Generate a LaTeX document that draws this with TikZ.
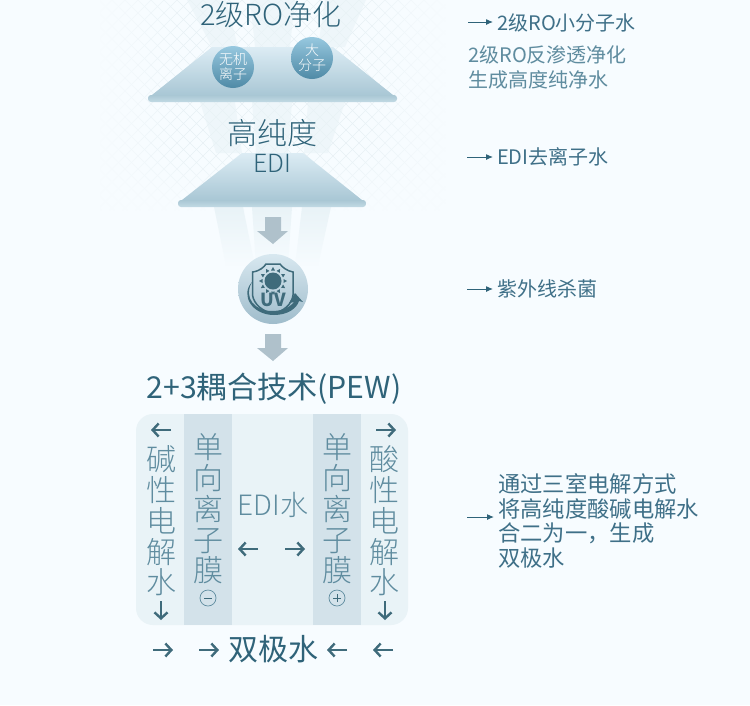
\documentclass[tikz,border=0pt]{standalone}
\usepackage{fontspec}
\setmainfont{Noto Sans CJK SC Light}
\newfontfamily\regf{Noto Sans CJK SC}
\usetikzlibrary{arrows.meta,fadings}
\definecolor{bgc}{HTML}{F7FCFF}
\definecolor{ink}{HTML}{2F6379}
\definecolor{inkm}{HTML}{3F7088}
\definecolor{inkl}{HTML}{5F8C9F}
\definecolor{inkd}{HTML}{3F6B7B}
\definecolor{boxc}{HTML}{E9F3F7}
\definecolor{bandc}{HTML}{D3E2EA}
\definecolor{grayarrow}{HTML}{AFC1CB}
\definecolor{latt}{HTML}{E8F0F5}
\definecolor{ballb}{HTML}{4F8AA6}
\definecolor{ballt}{HTML}{97C8DF}
\definecolor{platet}{HTML}{A9C7D4}
\definecolor{plateb}{HTML}{C2DAE4}
\definecolor{beamc}{HTML}{E9F3F7}
\definecolor{funt}{HTML}{DCECF4}
\definecolor{funb}{HTML}{A9C7D5}
\definecolor{uvt}{HTML}{D8E8F0}
\definecolor{uvb}{HTML}{9FBCCB}
\tikzset{
  x=1pt,y=-1pt,
  txt/.style={inner sep=0pt,text=#1},
  txt/.default=ink,
  sz/.style={font=\fontsize{#1}{#1}\selectfont},
  regsz/.style={font=\regf\fontsize{#1}{#1}\selectfont},
  vert/.style={inner sep=0pt,align=center,text=inkl,font=\fontsize{30}{30.7}\selectfont},
  tinyarrow/.style={-{Straight Barb[length=6pt,width=13pt,line width=2.4pt]},line width=2.6pt,draw=inkd},
  pointer/.style={-{Latex[length=7pt,width=6pt]},line width=1pt,draw=ink,shorten >=4pt},
  ball/.style={circle,minimum size=42pt,inner sep=0pt,top color=ballt,bottom color=ballb,text=white,align=center,font=\fontsize{14}{15}\selectfont},
  bigarrow/.style={fill=grayarrow},
  beam/.style={fill=beamc,opacity=.6},
  lowbeam/.style={fill=beamc,path fading=south},
  funnel/.style={top color=funt,bottom color=funb},
  plate/.style={top color=platet,bottom color=plateb,rounded corners=3pt},
  mark circle/.style={circle,draw=inkl,line width=.7pt,minimum size=16pt,inner sep=0pt},
}
\begin{document}
\begin{tikzpicture}
\useasboundingbox (0,0) rectangle (750,705);
\fill[bgc] (0,0) rectangle (750,705);
% lattice
\begin{scope}
\clip (100,0) rectangle (445,210);
\foreach \k in {-200,-187,...,700}{
  \draw[latt,line width=.5pt] (\k,0) -- ++(210,210);
  \draw[latt,line width=.5pt] (\k,0) -- ++(-210,210);
}
\end{scope}
\fill[bgc,path fading=east] (99,-1) rectangle (190,211);
\fill[bgc,path fading=west] (355,-1) rectangle (446,211);
\fill[bgc,path fading=north] (99,150) rectangle (446,211);
% beams
\fill[beam] (187,0) -- (226,0) -- (238,47) -- (212,47) -- cycle;
\fill[beam] (250,0) -- (295,0) -- (290,47) -- (255,47) -- cycle;
\fill[beam] (325,0) -- (366,0) -- (345,47) -- (318,47) -- cycle;
\fill[beam] (200,102) -- (235,102) -- (242,153) -- (216,153) -- cycle;
\fill[beam] (252,102) -- (292,102) -- (288,153) -- (256,153) -- cycle;
\fill[beam] (308,102) -- (345,102) -- (328,153) -- (304,153) -- cycle;
\fill[lowbeam] (214,207) -- (243,207) -- (255,266) -- (226,266) -- cycle;
\fill[lowbeam] (252,207) -- (292,207) -- (288,266) -- (256,266) -- cycle;
\fill[lowbeam] (302,207) -- (331,207) -- (318,266) -- (295,266) -- cycle;
% funnels
\shade[funnel] (212,47) -- (333,47) -- (393,95) -- (152,95) -- cycle;
\shade[plate] (148,95) rectangle (397,102);
\shade[funnel] (242,153) -- (303,153) -- (362,200) -- (182,200) -- cycle;
\shade[plate] (178,200) rectangle (366,207);
% titles
\node[txt,sz=29] (t1) at (271,15) {2级RO净化};
\node[txt,sz=30] (t2) at (272,133) {高纯度};
\node[txt,sz=25] (t3) at (272,163) {EDI};
\node[ball] (b1) at (233,67) {无机\\离子};
\node[ball] (b2) at (312,58) {大\\分子};
% big arrows
\fill[bigarrow] (265,217) -- (281,217) -- (281,231) -- (288,231) -- (273,244) -- (257,231) -- (265,231) -- cycle;
\fill[bigarrow] (265,334) -- (281,334) -- (281,348) -- (288,348) -- (273,361) -- (257,348) -- (265,348) -- cycle;
% UV
\node[circle,minimum size=70pt,inner sep=0pt,top color=uvt,bottom color=uvb] (uv) at (273,289) {};
\draw[inkd,line width=1.5pt] (252.5,272) .. controls (260,271) and (264,267) .. (266,264) -- (280,264) .. controls (282,267) and (287,271) .. (293,272) -- (293,295) .. controls (292,305) and (283,311) .. (273,314) .. controls (263,311) and (254,305) .. (252.5,295) -- cycle;
\fill[inkd] (273,281) circle (8.5);
\foreach \a in {0,30,...,330}{
  \fill[inkd,shift={(273,281)},rotate=\a] (10.5,-2) -- (14,0) -- (10.5,2) -- cycle;
}
\node[inner sep=0pt,text=inkd,font=\regf\fontsize{18}{18}\selectfont\bfseries] (uvlabel) at (273,300) {UV};
\fill[inkd] (252,282) .. controls (240,295) and (252,315) .. (274,315) .. controls (288,315) and (297,308) .. (299,301) -- (303,302) -- (295,293) -- (289,303) -- (294,302) .. controls (288,309) and (280,311) .. (272,311) .. controls (255,311) and (243,298) .. (252,282) -- cycle;
% coupling
\node[txt,regsz=30.2] (t4) at (274,389) {2+3耦合技术(PEW)};
% box
\fill[boxc,rounded corners=17pt] (136,414) rectangle (408,625);
\fill[bandc] (184,414) rectangle (232,625);
\fill[bandc] (313,414) rectangle (361,625);
\node[vert] (v1) at (161,521) {碱\\性\\电\\解\\水};
\node[vert] (v2) at (208,509) {单\\向\\离\\子\\膜};
\node[vert] (v3) at (337,509) {单\\向\\离\\子\\膜};
\node[vert] (v4) at (384,521) {酸\\性\\电\\解\\水};
\node[txt=inkl,sz=28] (edi) at (273,505) {EDI水};
\node[mark circle] (minus) at (208,598) {};
\draw[inkd,line width=.9pt] (minus.center)+(-4,0) -- +(4,0);
\node[mark circle] (plus) at (337,598) {};
\draw[inkd,line width=.9pt] (plus.center)+(-4,0) -- +(4,0) (plus.center)+(0,-4) -- +(0,4);
% small arrows
\coordinate (a1s) at (171,430); \coordinate (a1e) at (151,430);
\coordinate (a2s) at (376,430); \coordinate (a2e) at (396,430);
\coordinate (a3s) at (161,601); \coordinate (a3e) at (161,620);
\coordinate (a4s) at (385,601); \coordinate (a4e) at (385,620);
\coordinate (a5s) at (258,549); \coordinate (a5e) at (238,549);
\coordinate (a6s) at (285,549); \coordinate (a6e) at (305,549);
\coordinate (a7s) at (153,650); \coordinate (a7e) at (173,650);
\coordinate (a8s) at (199,650); \coordinate (a8e) at (219,650);
\coordinate (a9s) at (347,650); \coordinate (a9e) at (327,650);
\coordinate (a10s) at (393,650); \coordinate (a10e) at (373,650);
\foreach \i in {1,...,10}{\draw[tinyarrow] (a\i s) -- (a\i e);}
\node[txt,regsz=30] (dj) at (273,649) {双极水};
% right side
\node[txt=inkm,regsz=20,anchor=west] (r1) at (497,23) {2级RO小分子水};
\node[txt=inkl,regsz=20,anchor=west] (r2) at (468,55) {2级RO反渗透净化};
\node[txt=inkl,regsz=20,anchor=west] (r3) at (468,80) {生成高度纯净水};
\node[txt=inkm,regsz=20,anchor=west] (r4) at (497,157) {EDI去离子水};
\node[txt=inkm,regsz=20,anchor=west] (r5) at (497,289) {紫外线杀菌};
\node[txt=inkm,anchor=west,align=left,font=\regf\fontsize{22.3}{24.5}\selectfont] (r6) at (498,521) {通过三室电解方式\\将高纯度酸碱电解水\\合二为一，生成\\双极水};
\coordinate (p1) at (468,22);
\coordinate (p2) at (467,157);
\coordinate (p3) at (467,289);
\coordinate (p4) at (467,517);
\draw[pointer] (p1) -- (r1.west |- p1);
\draw[pointer] (p2) -- (r4.west |- p2);
\draw[pointer] (p3) -- (r5.west |- p3);
\draw[pointer] (p4) -- (r6.west |- p4);
\end{tikzpicture}
\end{document}
